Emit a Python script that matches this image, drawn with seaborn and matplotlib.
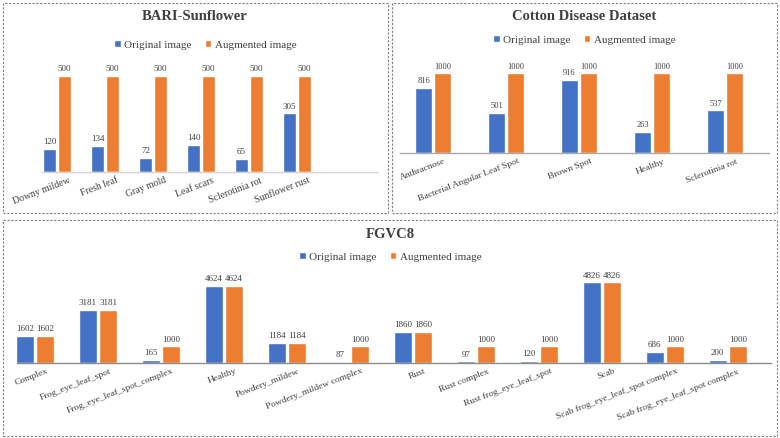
import pandas as pd
import seaborn as sns
import matplotlib.pyplot as plt
from matplotlib.patches import Rectangle
from matplotlib.transforms import ScaledTranslation

# BARI-Sunflower
bari_classes = ['Downy mildew', 'Fresh leaf', 'Gray mold', 'Leaf scars',
                'Sclerotinia rot', 'Sunflower rust']
bari_original = [120, 134, 72, 140, 65, 305]
bari_augmented = [500, 500, 500, 500, 500, 500]

# Cotton Disease Dataset
cotton_classes = ['Anthracnose', 'Bacterial Angular Leaf Spot', 'Brown Spot',
                  'Healthy', 'Sclerotinia rot']
cotton_original = [816, 501, 916, 263, 537]
cotton_augmented = [1000, 1000, 1000, 1000, 1000]

# FGVC8 (last label carries a trailing space so the two identical names stay separate)
fgvc_classes = ['Complex', 'Frog_eye_leaf_spot', 'Frog_eye_leaf_spot_complex',
                'Healthy', 'Powdery_mildew', 'Powdery_mildew complex', 'Rust',
                'Rust complex', 'Rust frog_eye_leaf_spot', 'Scab',
                'Scab frog_eye_leaf_spot complex', 'Scab frog_eye_leaf_spot complex ']
fgvc_original = [1602, 3181, 165, 4624, 1184, 87, 1860, 97, 120, 4826, 686, 200]
fgvc_augmented = [1602, 3181, 1000, 4624, 1184, 1000, 1860, 1000, 1000, 4826, 1000, 1000]

series_names = ['Original image', 'Augmented image']
colors = ['#4472C4', '#ED7D31']

sns.set_style('white')
plt.rcParams['font.family'] = ['Liberation Serif', 'DejaVu Serif']

W, H = 780, 438
fig = plt.figure(figsize=(W / 100, H / 100), dpi=100)


def long_table(classes, orig, aug):
    df = pd.DataFrame({'class': classes, series_names[0]: orig, series_names[1]: aug})
    return df.melt(id_vars='class', var_name='type', value_name='count')


def panel(classes, orig, aug, left, right, c0, step, base, top, px_per_unit,
          width, gap, title, title_xy, legend_xy, lab_size, tick_size, base_color):
    ax = fig.add_axes([left / W, 1 - base / H, (right - left) / W, (base - top) / H])
    df = long_table(classes, orig, aug)
    sns.barplot(data=df, x='class', y='count', hue='type', palette=colors,
                saturation=1, width=width, gap=gap, ax=ax)
    ax.set_xlim((left - c0) / step, (right - c0) / step)
    ax.set_ylim(0, (base - top) / px_per_unit)
    for c in ax.containers:
        ax.bar_label(c, padding=2, fontsize=lab_size, color='#404040')
    handles, labels = ax.get_legend_handles_labels()
    ax.get_legend().remove()
    ax.legend(handles, labels, loc='center', ncol=2, frameon=False,
              bbox_to_anchor=(legend_xy[0] / W, 1 - legend_xy[1] / H),
              bbox_transform=fig.transFigure, fontsize=8, handlelength=0.6,
              handleheight=0.6, handletextpad=0.3, columnspacing=1.2,
              labelcolor='#404040')
    fig.text(title_xy[0] / W, 1 - title_xy[1] / H, title, ha='center', va='center',
             fontsize=10.5, fontweight='bold', color='#404040')
    ax.set_xlabel('')
    ax.set_ylabel('')
    ax.set_yticks([])
    for s in ['top', 'left', 'right']:
        ax.spines[s].set_visible(False)
    ax.spines['bottom'].set_color(base_color)
    ax.spines['bottom'].set_linewidth(1.0)
    ax.tick_params(axis='x', length=0, pad=3, labelsize=tick_size, colors='#404040')
    shift = ScaledTranslation(11 / 100, 0, fig.dpi_scale_trans)
    for lab in ax.get_xticklabels():
        lab.set_rotation(21)
        lab.set_ha('right')
        lab.set_rotation_mode('anchor')
        lab.set_transform(lab.get_transform() + shift)
    ax.patch.set_alpha(0)
    return ax


panel(bari_classes, bari_original, bari_augmented, 42, 377, 57, 48, 171.7, 60, 95.7 / 500,
      0.62, 0.13, 'BARI-Sunflower', (195, 17), (205, 45), 6.5, 7, '#D4D4D4')
panel(cotton_classes, cotton_original, cotton_augmented, 400, 769, 433, 73, 153.3, 60,
      80 / 1000, 0.52, 0.13, 'Cotton Disease Dataset', (584, 17), (584, 40), 6, 6.8,
      '#ABABAB')
panel(fgvc_classes, fgvc_original, fgvc_augmented, 17, 771, 35, 63, 363, 275, 77.3 / 4624,
      0.65, 0.12, 'FGVC8', (390, 235), (390, 257), 6.5, 6.8, '#8C8C8C')

# dashed frames around each panel
for x0, y0, x1, y1 in [(2.5, 2.5, 388, 213), (392, 2.5, 777, 213), (2.5, 220, 777, 436)]:
    fig.add_artist(Rectangle((x0 / W, 1 - y1 / H), (x1 - x0) / W, (y1 - y0) / H,
                             transform=fig.transFigure, fill=False, edgecolor='#7F7F7F',
                             linewidth=0.8, linestyle=(0, (2, 1.5))))

fig.savefig('out.png', dpi=100, facecolor='white')
